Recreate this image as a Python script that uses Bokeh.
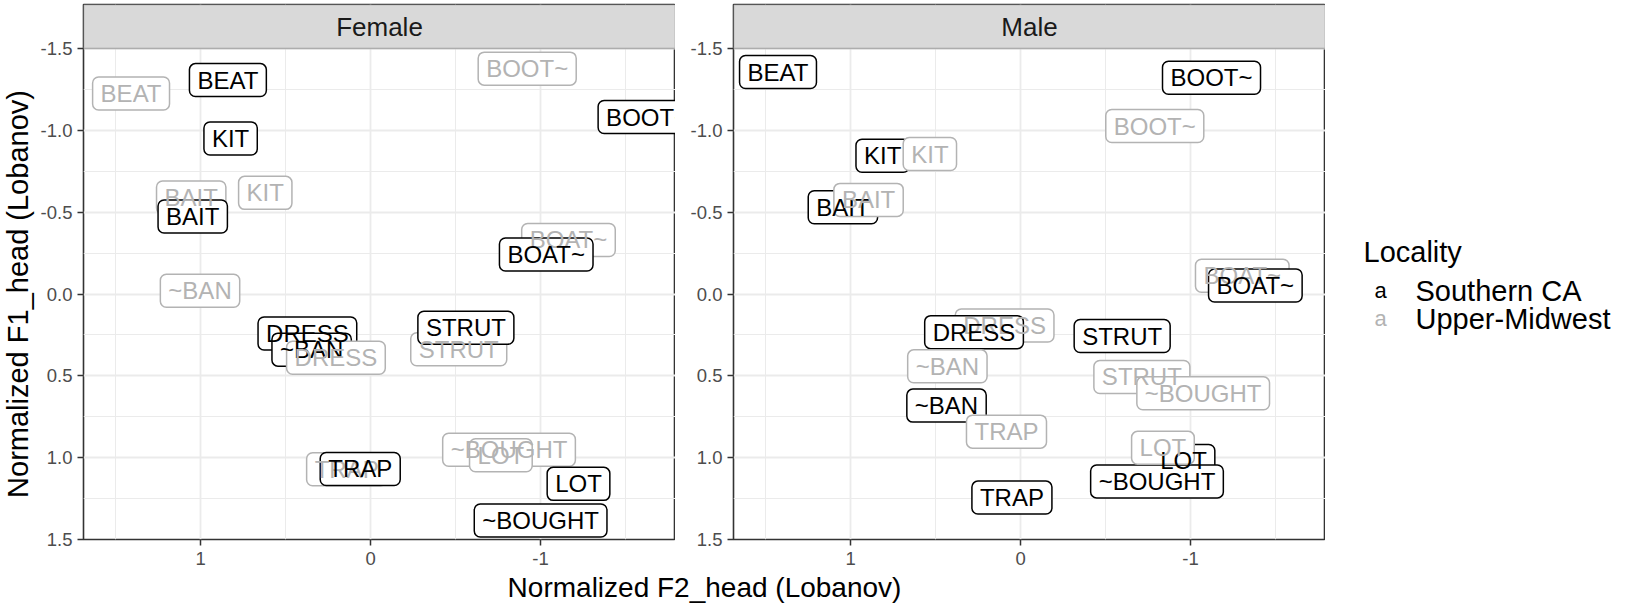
from math import pi
from bokeh.plotting import figure
from bokeh.models import Range1d, ColumnDataSource, FixedTicker, Label, BoxAnnotation
from bokeh.layouts import row, column
from bokeh.core.properties import value, field
from bokeh.embed import file_html
from bokeh.resources import INLINE

# ---------------- data ----------------
LOCALITIES = ["Southern CA", "Upper-Midwest"]
LOCALITY_COLORS = ["#000000", "#B3B3B3"]

female_sca_vowel = ["BEAT", "BOOT~", "KIT", "BAIT", "BOAT~", "DRESS", "~BAN", "STRUT", "TRAP", "LOT", "~BOUGHT"]
female_sca_f2 = [0.84, -1.628, 0.824, 1.047, -1.034, 0.372, 0.347, -0.561, 0.061, -1.224, -1.001]
female_sca_f1 = [-1.307, -1.081, -0.95, -0.474, -0.241, 0.241, 0.34, 0.206, 1.069, 1.16, 1.384]

female_umw_vowel = ["BEAT", "BOOT~", "BAIT", "KIT", "BOAT~", "~BAN", "DRESS", "STRUT", "~BOUGHT", "LOT", "TRAP"]
female_umw_f2 = [1.41, -0.922, 1.056, 0.62, -1.165, 1.004, 0.204, -0.519, -0.815, -0.767, 0.141]
female_umw_f1 = [-1.225, -1.377, -0.59, -0.618, -0.33, -0.02, 0.389, 0.338, 0.952, 0.985, 1.071]

male_sca_vowel = ["BEAT", "BOOT~", "KIT", "BAIT", "BOAT~", "DRESS", "STRUT", "~BAN", "LOT", "~BOUGHT", "TRAP"]
male_sca_f2 = [1.428, -1.124, 0.812, 1.046, -1.382, 0.274, -0.598, 0.436, -0.959, -0.803, 0.051]
male_sca_f1 = [-1.356, -1.321, -0.845, -0.53, -0.052, 0.233, 0.257, 0.682, 1.02, 1.145, 1.244]

male_umw_vowel = ["BOOT~", "KIT", "BAIT", "BOAT~", "DRESS", "~BAN", "STRUT", "~BOUGHT", "TRAP", "LOT"]
male_umw_f2 = [-0.79, 0.534, 0.895, -1.305, 0.094, 0.431, -0.714, -1.075, 0.083, -0.838]
male_umw_f1 = [-1.026, -0.855, -0.575, -0.111, 0.192, 0.442, 0.507, 0.607, 0.841, 0.94]

X_TICKS = [1, 0, -1]
X_TICK_LABELS = ["1", "0", "-1"]
X_MINOR = [1.5, 0.5, -0.5, -1.5]
Y_TICKS = [-1.5, -1.0, -0.5, 0.0, 0.5, 1.0, 1.5]
Y_TICK_LABELS = ["-1.5", "-1.0", "-0.5", "0.0", "0.5", "1.0", "1.5"]
Y_MINOR = [-1.25, -0.75, -0.25, 0.25, 0.75, 1.25]
X_LIMITS = (1.69, -1.795)
Y_LIMITS = (-1.5, 1.5)

X_TITLE = "Normalized F2_head (Lobanov)"
Y_TITLE = "Normalized F1_head (Lobanov)"
LEGEND_TITLE = "Locality"

# ---------------- layout / style ----------------
FONT = "Liberation Sans"
FRAME_W = 592
PANEL_H = 491
STRIP_H = 44
TOP = 4
FRAME_H = PANEL_H + STRIP_H
YT_W = 35
F_LEFT = 48
M_LEFT = 58
LEG_W = 294
BOTTOM = 32
TITLE_H = 34
ROW_H = TOP + FRAME_H + BOTTOM
TOTAL_W = YT_W + F_LEFT + FRAME_W + M_LEFT + FRAME_W + LEG_W

strip_units = (Y_LIMITS[1] - Y_LIMITS[0]) * STRIP_H / PANEL_H
y_top = Y_LIMITS[0] - strip_units

GRID = "#EBEBEB"
DARK = "#333333"


def pick(vowels, f2, f1, color, names, keep):
    idx = [i for i, v in enumerate(vowels) if (v in names) == keep]
    return ([vowels[i] for i in idx], [f2[i] for i in idx], [f1[i] for i in idx], color)


def make_panel(name, groups, left):
    p = figure(frame_width=FRAME_W, frame_height=FRAME_H,
               x_range=Range1d(*X_LIMITS), y_range=Range1d(Y_LIMITS[1], y_top),
               output_backend="svg", toolbar_location=None,
               min_border_left=left, min_border_right=0, min_border_top=TOP,
               min_border_bottom=BOTTOM)
    p.title.visible = False
    p.background_fill_color = "white"
    p.border_fill_color = "white"
    p.outline_line_color = DARK
    p.outline_line_width = 1.6

    p.xaxis.ticker = FixedTicker(ticks=X_TICKS, minor_ticks=X_MINOR)
    p.yaxis.ticker = FixedTicker(ticks=Y_TICKS, minor_ticks=Y_MINOR)
    p.xaxis.major_label_overrides = {t: s for t, s in zip(X_TICKS, X_TICK_LABELS)}
    p.yaxis.major_label_overrides = {t: s for t, s in zip(Y_TICKS, Y_TICK_LABELS)}
    for ax in (p.xaxis, p.yaxis):
        ax.axis_line_color = None
        ax.major_tick_line_color = DARK
        ax.major_tick_line_width = 1.5
        ax.major_tick_in = 0
        ax.major_tick_out = 6
        ax.minor_tick_line_color = None
        ax.major_label_text_color = "#4D4D4D"
        ax.major_label_text_font = FONT
        ax.major_label_text_font_size = "18.5px"
    p.xaxis.major_label_standoff = 6
    p.yaxis.major_label_standoff = 5
    p.yaxis.bounds = Y_LIMITS

    for g in (p.xgrid, p.ygrid):
        g.grid_line_color = GRID
        g.grid_line_width = 1.8
        g.minor_grid_line_color = GRID
        g.minor_grid_line_width = 1.0

    # labels: all boxes first, then all texts
    xs, ys, texts, colors = [], [], [], []
    for vowels, f2, f1, color in groups:
        xs += list(f2)
        ys += list(f1)
        texts += list(vowels)
        colors += [color] * len(vowels)
    src = ColumnDataSource(dict(x=xs, y=ys, text=texts, color=colors))
    common = dict(x="x", y="y", text="text", source=src,
                  text_font=value(FONT), text_font_size="24px",
                  text_align="center", text_baseline="middle")
    p.text(**common, text_color=None,
           background_fill_color="white",
           border_line_color=field("color"), border_line_width=1.5,
           padding=dict(left=8, right=8, top=3, bottom=3), border_radius=6)
    p.text(**common, text_color=field("color"))

    # facet strip
    p.add_layout(BoxAnnotation(bottom=Y_LIMITS[0], fill_color="#D9D9D9", fill_alpha=1.0,
                               line_color=DARK, line_width=1.6))
    p.add_layout(Label(x=(X_LIMITS[0] + X_LIMITS[1]) / 2, y=Y_LIMITS[0] - strip_units / 2,
                       text=name, text_align="center", text_baseline="middle",
                       text_font=FONT, text_font_size="26px", text_color="#1A1A1A"))
    return p


SCA, UMW = LOCALITY_COLORS
fF = make_panel("Female",
                [pick(female_umw_vowel, female_umw_f2, female_umw_f1, UMW, ["DRESS"], False),
                 pick(female_sca_vowel, female_sca_f2, female_sca_f1, SCA, [], False),
                 pick(female_umw_vowel, female_umw_f2, female_umw_f1, UMW, ["DRESS"], True)],
                F_LEFT)
fM = make_panel("Male",
                [pick(male_umw_vowel, male_umw_f2, male_umw_f1, UMW, ["BOAT~", "DRESS"], True),
                 pick(male_sca_vowel, male_sca_f2, male_sca_f1, SCA, [], False),
                 pick(male_umw_vowel, male_umw_f2, male_umw_f1, UMW, ["BOAT~", "DRESS"], False)],
                M_LEFT)

# y-axis title
yt = figure(frame_width=YT_W, frame_height=FRAME_H, x_range=Range1d(0, 1), y_range=fF.y_range,
            x_axis_type=None, y_axis_type=None, output_backend="svg", toolbar_location=None,
            min_border_left=0, min_border_right=0, min_border_top=TOP, min_border_bottom=BOTTOM)
yt.title.visible = False
yt.outline_line_color = None
yt.add_layout(Label(x=0.5, y=(Y_LIMITS[0] + Y_LIMITS[1]) / 2, text=Y_TITLE, angle=pi / 2,
                    text_align="center", text_baseline="middle",
                    text_font=FONT, text_font_size="29px", text_color="black"))

# legend
leg = figure(frame_width=LEG_W, frame_height=ROW_H, x_range=Range1d(0, LEG_W), y_range=Range1d(ROW_H, 0),
             x_axis_type=None, y_axis_type=None, output_backend="svg", toolbar_location=None,
             min_border=0)
leg.title.visible = False
leg.outline_line_color = None
leg.text(x=[38], y=[247], text=[LEGEND_TITLE], text_font=value(FONT), text_font_size="29px",
         text_align="left", text_baseline="middle", text_color="black")
key_y = [286 + 28 * i for i in range(len(LOCALITIES))]
leg.text(x=[55] * len(LOCALITIES), y=key_y, text=["a"] * len(LOCALITIES), text_color=LOCALITY_COLORS,
         text_font=value(FONT), text_font_size="22px", text_align="center", text_baseline="middle")
leg.text(x=[90] * len(LOCALITIES), y=key_y, text=LOCALITIES, text_color="black",
         text_font=value(FONT), text_font_size="29px", text_align="left", text_baseline="middle")

# x-axis title
tf = figure(frame_width=TOTAL_W, frame_height=TITLE_H, x_range=Range1d(0, TOTAL_W), y_range=Range1d(TITLE_H, 0),
            x_axis_type=None, y_axis_type=None, output_backend="svg", toolbar_location=None, min_border=0)
tf.title.visible = False
tf.outline_line_color = None
panel_left = YT_W + F_LEFT
panel_right = YT_W + F_LEFT + FRAME_W + M_LEFT + FRAME_W
tf.add_layout(Label(x=(panel_left + panel_right) / 2, y=16, text=X_TITLE,
                    text_align="center", text_baseline="middle",
                    text_font=FONT, text_font_size="28px", text_color="black"))

layout = column(row(yt, fF, fM, leg), tf)
open("out.html", "w").write(file_html(layout, INLINE))
